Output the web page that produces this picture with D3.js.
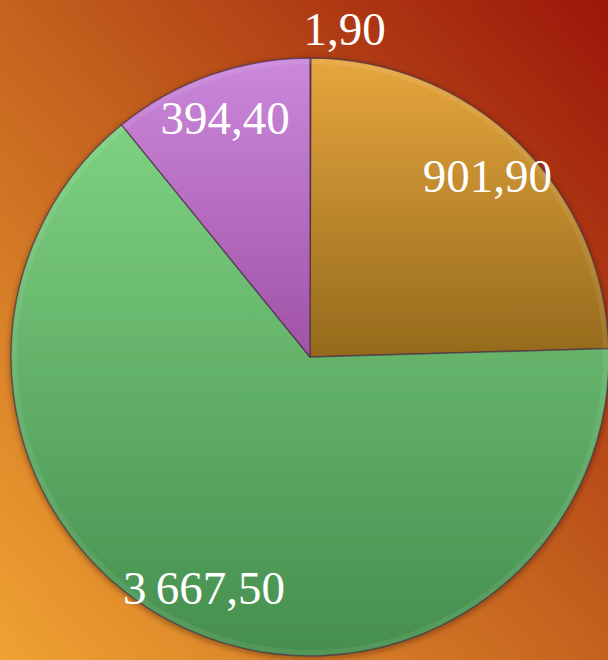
<!DOCTYPE html>
<html><head><meta charset="utf-8">
<script src="https://cdn.jsdelivr.net/npm/d3@7"></script>
<style>html,body{margin:0;padding:0;background:#c0601e}svg{display:block}</style>
</head><body>
<script>
// Data
const values = [1.90, 901.90, 3667.50, 394.40];          // data labels shown on the chart
const sliceShares = [0.05, 24.5, 64.6, 10.85];           // share of the circle (%) as drawn
const colorsTop = ["#e8a63e", "#e7a63d", "#7ed181", "#cb88dc"];
const colorsBottom = ["#966a1d", "#946a1c", "#458e4e", "#a052a6"];

const W = 608, H = 660;
const cx = 310, cy = 357, R = 299;

const locale = d3.formatLocale({decimal: ",", thousands: "\u2009", grouping: [3], currency: ["", ""]});
const fmt = locale.format(",.2f");

const data = values.map((v, i) => ({value: v, share: sliceShares[i], top: colorsTop[i], bottom: colorsBottom[i], i}));

const svg = d3.select("body").append("svg").attr("width", W).attr("height", H);
const defs = svg.append("defs");

// background gradient
const bg = defs.append("linearGradient").attr("id", "bg")
  .attr("x1", "0").attr("y1", "1").attr("x2", "1").attr("y2", "0");
bg.append("stop").attr("offset", "0").attr("stop-color", "#efa232");
bg.append("stop").attr("offset", "0.5").attr("stop-color", "#c4621e");
bg.append("stop").attr("offset", "1").attr("stop-color", "#9c160a");
svg.append("rect").attr("width", W).attr("height", H).attr("fill", "url(#bg)");

data.forEach(d => {
  const g = defs.append("linearGradient").attr("id", "sg" + d.i)
    .attr("x1", "0").attr("y1", "0").attr("x2", "0").attr("y2", "1");
  g.append("stop").attr("offset", "0").attr("stop-color", d.top);
  g.append("stop").attr("offset", "1").attr("stop-color", d.bottom);
});

const sh = defs.append("filter").attr("id", "shadow").attr("x", "-10%").attr("y", "-10%").attr("width", "120%").attr("height", "120%");
sh.append("feDropShadow").attr("dx", 0).attr("dy", 2).attr("stdDeviation", 3)
  .attr("flood-color", "#2a1205").attr("flood-opacity", 0.45);

const pie = d3.pie().sort(null).value(d => d.share).startAngle(0).endAngle(2 * Math.PI);
const arcs = pie(data);
const arc = d3.arc().innerRadius(0).outerRadius(R);
const rim = d3.arc().innerRadius(R - 6).outerRadius(R - 1);

const gPie = svg.append("g").attr("transform", `translate(${cx},${cy})`).attr("filter", "url(#shadow)");
gPie.selectAll("path.slice").data(arcs).join("path")
  .attr("class", "slice")
  .attr("d", arc)
  .attr("fill", d => `url(#sg${d.data.i})`)
  .attr("stroke", "#4b3048")
  .attr("stroke-opacity", 0.7)
  .attr("stroke-width", 1.4)
  .attr("stroke-linejoin", "round");

// soft bevel highlight along the rim
svg.append("g").attr("transform", `translate(${cx},${cy})`)
  .selectAll("path").data(arcs).join("path")
  .attr("d", rim)
  .attr("fill", "#ffffff")
  .attr("fill-opacity", 0.08);

// labels
const labelArc = d3.arc().innerRadius(R * 0.85).outerRadius(R * 0.85);
const outArc = d3.arc().innerRadius(R * 1.1).outerRadius(R * 1.1);
svg.append("g").attr("transform", `translate(${cx},${cy})`)
  .selectAll("text").data(arcs).join("text")
  .each(function(d) {
    const small = (d.endAngle - d.startAngle) < 0.05;
    const [x, y] = small ? outArc.centroid(d) : labelArc.centroid(d);
    d3.select(this)
      .attr("x", small ? x - 7 : x)
      .attr("y", y)
      .attr("text-anchor", small ? "start" : "middle");
  })
  .attr("dy", "0.35em")
  .attr("font-family", "'Liberation Serif', 'Times New Roman', serif")
  .attr("font-size", 47)
  .attr("fill", "#ffffff")
  .text(d => fmt(d.data.value));
</script>
</body></html>
